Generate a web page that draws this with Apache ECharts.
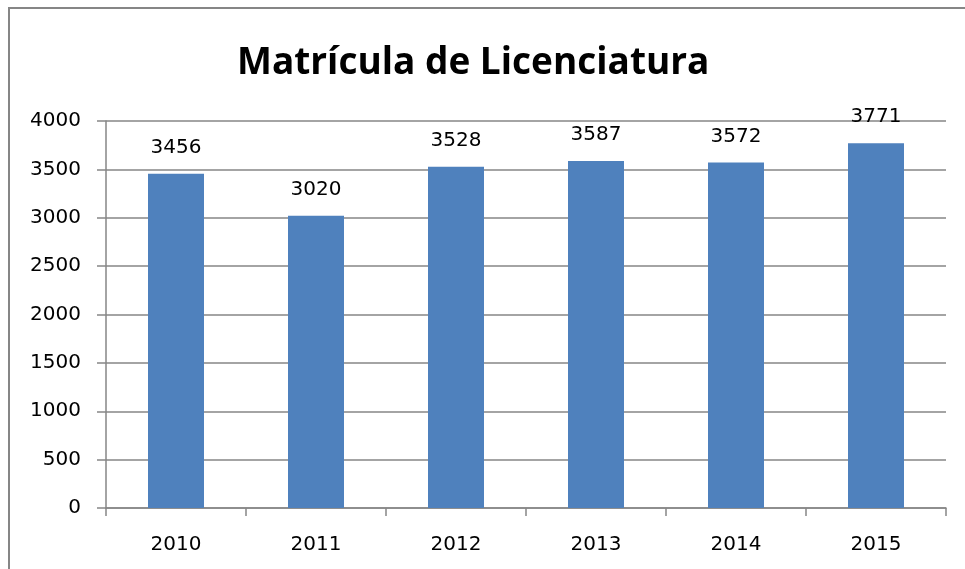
<!DOCTYPE html>
<html><head><meta charset="utf-8">
<script src="https://cdn.jsdelivr.net/npm/echarts@6/dist/echarts.min.js"></script>
<style>html,body{margin:0;padding:0;background:#fff}#c{width:965px;height:569px}</style>
</head><body><div id="c"></div>
<script>
const categories = ['2010','2011','2012','2013','2014','2015'];
const values = [3456, 3020, 3528, 3587, 3572, 3771];
const titleText = 'Matrícula de Licenciatura';
const chart = echarts.init(document.getElementById('c'));
const font = 'DejaVu Sans, sans-serif';
chart.setOption({
  animation: false,
  title: {text: titleText, left: 232, top: 40,
    textStyle: {fontFamily: 'Open Sans', fontWeight: 'bold', fontSize: 37, color: '#000'}},
  graphic: [{type: 'rect', shape: {x: 9, y: 8, width: 1000, height: 600},
    style: {fill: 'none', stroke: '#868686', lineWidth: 2}, silent: true}],
  grid: {left: 106, right: 19, top: 121, bottom: 61, containLabel: false},
  xAxis: {type: 'category', data: categories,
    axisLine: {lineStyle: {color: '#868686', width: 1.5}},
    axisTick: {show: true, length: 8, lineStyle: {color: '#868686', width: 1.5}},
    axisLabel: {color: '#000', fontSize: 20, fontFamily: font, margin: 27}},
  yAxis: {type: 'value', min: 0, max: 4000, interval: 500,
    axisLine: {show: true, lineStyle: {color: '#868686', width: 1.5}},
    axisTick: {show: true, inside: false, length: 9, lineStyle: {color: '#868686', width: 1.5}},
    splitLine: {lineStyle: {color: '#868686', width: 1.5}},
    axisLabel: {color: '#000', fontSize: 20, fontFamily: font, margin: 25,
      formatter: function (v) { return String(v); }}},
  series: [{type: 'bar', data: values, barWidth: 56,
    itemStyle: {color: '#4F81BD'},
    label: {show: true, position: 'top', distance: 16, color: '#000', fontSize: 20, fontFamily: font}}]
});
</script></body></html>
